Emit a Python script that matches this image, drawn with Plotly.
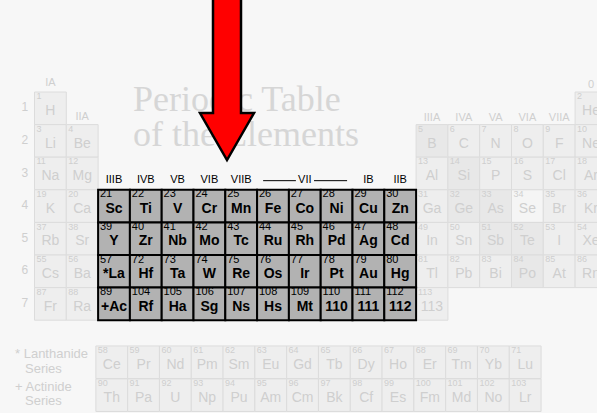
import plotly.graph_objects as go

# ---------------- data ----------------
SYMBOLS = [
    "H", "He",
    "Li", "Be", "B", "C", "N", "O", "F", "Ne",
    "Na", "Mg", "Al", "Si", "P", "S", "Cl", "Ar",
    "K", "Ca", "Sc", "Ti", "V", "Cr", "Mn", "Fe", "Co", "Ni", "Cu", "Zn", "Ga", "Ge", "As", "Se", "Br", "Kr",
    "Rb", "Sr", "Y", "Zr", "Nb", "Mo", "Tc", "Ru", "Rh", "Pd", "Ag", "Cd", "In", "Sn", "Sb", "Te", "I", "Xe",
    "Cs", "Ba", "*La", "Hf", "Ta", "W", "Re", "Os", "Ir", "Pt", "Au", "Hg", "Tl", "Pb", "Bi", "Po", "At", "Rn",
    "Fr", "Ra", "+Ac", "Rf", "Ha", "Sg", "Ns", "Hs", "Mt", "110", "111", "112", "113",
]
NUMBERS = [
    1, 2,
    3, 4, 5, 6, 7, 8, 9, 10,
    11, 12, 13, 14, 15, 16, 17, 18,
    19, 20, 21, 22, 23, 24, 25, 26, 27, 28, 29, 30, 31, 32, 33, 34, 35, 36,
    37, 38, 39, 40, 41, 42, 43, 44, 45, 46, 47, 48, 49, 50, 51, 52, 53, 54,
    55, 56, 57, 72, 73, 74, 75, 76, 77, 78, 79, 80, 81, 82, 83, 84, 85, 86,
    87, 88, 89, 104, 105, 106, 107, 108, 109, 110, 111, 112, 113,
]
GROUPS = [
    1, 18,
    1, 2, 13, 14, 15, 16, 17, 18,
    1, 2, 13, 14, 15, 16, 17, 18,
    1, 2, 3, 4, 5, 6, 7, 8, 9, 10, 11, 12, 13, 14, 15, 16, 17, 18,
    1, 2, 3, 4, 5, 6, 7, 8, 9, 10, 11, 12, 13, 14, 15, 16, 17, 18,
    1, 2, 3, 4, 5, 6, 7, 8, 9, 10, 11, 12, 13, 14, 15, 16, 17, 18,
    1, 2, 3, 4, 5, 6, 7, 8, 9, 10, 11, 12, 13,
]
PERIODS = (
    [1] * 2 + [2] * 8 + [3] * 8 + [4] * 18 + [5] * 18 + [6] * 18 + [7] * 13
)

HIGHLIGHT_GROUPS = [3, 4, 5, 6, 7, 8, 9, 10, 11, 12]
HIGHLIGHT_PERIODS = [4, 5, 6, 7]
SHADED = ["B", "Si", "Ge", "As", "Sb", "Te", "Po"]
PALE = ["Se"]

LAN_SYMBOLS = ["Ce", "Pr", "Nd", "Pm", "Sm", "Eu", "Gd", "Tb", "Dy", "Ho", "Er", "Tm", "Yb", "Lu"]
LAN_NUMBERS = [58, 59, 60, 61, 62, 63, 64, 65, 66, 67, 68, 69, 70, 71]
ACT_SYMBOLS = ["Th", "Pa", "U", "Np", "Pu", "Am", "Cm", "Bk", "Cf", "Es", "Fm", "Md", "No", "Lr"]
ACT_NUMBERS = [90, 91, 92, 93, 94, 95, 96, 97, 98, 99, 100, 101, 102, 103]

ROW_LABELS = ["1", "2", "3", "4", "5", "6", "7"]
B_LABELS = ["IIIB", "IVB", "VB", "VIB", "VIIB", "VII", "IB", "IIB"]
B_LABEL_GROUPS = [3, 4, 5, 6, 7, 9, 11, 12]
A_LABELS = ["IA", "IIA", "IIIA", "IVA", "VA", "VIA", "VIIA", "0"]
A_LABEL_GROUPS = [1, 2, 13, 14, 15, 16, 17, 18]
A_LABEL_ROWS = [-0.28, 0.77, 0.79, 0.79, 0.79, 0.79, 0.79, -0.22]

TITLE_LINES = ["Periodic Table", "of the Elements"]
SERIES_LABELS = ["* Lanthanide", "Series", "+ Actinide", "Series"]

# ---------------- layout geometry ----------------
W, H = 597, 413
X0_PX, CW = 34.5, 31.8
Y0_PX, RH = 92.0, 32.6
XR = [-X0_PX / CW, (W - X0_PX) / CW]
YR = [(H - Y0_PX) / RH, -Y0_PX / RH]

LAN_COL0 = 1.93
LAN_ROW = 7.79
ACT_ROW = 8.80

BG = "#f7f7f7"
FADE_FILL = "#eeeeee"
FADE_SHADED = "#e8e8e8"
FADE_PALE = "#f5f5f5"
FADE_LINE = "#dcdcdc"
FADE_TEXT = "#cfcfcf"
HI_FILL = "#b2b2b2"

shapes = []
fade_num = dict(x=[], y=[], t=[])
fade_sym = dict(x=[], y=[], t=[])
hi_num = dict(x=[], y=[], t=[])
hi_sym = dict(x=[], y=[], t=[])


def add_cell(x0, y0, sym, num, highlight, fill):
    if highlight:
        shapes.append(dict(type="rect", xref="x", yref="y", x0=x0, x1=x0 + 1, y0=y0, y1=y0 + 1,
                           fillcolor=HI_FILL, line=dict(color="black", width=2), layer="below"))
        tgt_n, tgt_s = hi_num, hi_sym
    else:
        shapes.append(dict(type="rect", xref="x", yref="y", x0=x0, x1=x0 + 1, y0=y0, y1=y0 + 1,
                           fillcolor=fill, line=dict(color=FADE_LINE, width=1), layer="below"))
        tgt_n, tgt_s = fade_num, fade_sym
    tgt_n["x"].append(x0 + 0.06)
    tgt_n["y"].append(y0 + 0.15)
    tgt_n["t"].append(str(num))
    tgt_s["x"].append(x0 + 0.5)
    tgt_s["y"].append(y0 + 0.6)
    tgt_s["t"].append(sym)


# faded cells first, highlighted after so their borders sit on top
order = sorted(range(len(SYMBOLS)),
               key=lambda i: (GROUPS[i] in HIGHLIGHT_GROUPS and PERIODS[i] in HIGHLIGHT_PERIODS))
for i in order:
    g, p, s = GROUPS[i], PERIODS[i], SYMBOLS[i]
    hl = g in HIGHLIGHT_GROUPS and p in HIGHLIGHT_PERIODS
    fill = FADE_SHADED if s in SHADED else (FADE_PALE if s in PALE else FADE_FILL)
    add_cell(g - 1, p - 1, s, NUMBERS[i], hl, fill)

for k, (s, n) in enumerate(zip(LAN_SYMBOLS, LAN_NUMBERS)):
    add_cell(LAN_COL0 + k, LAN_ROW, s, n, False, FADE_FILL)
for k, (s, n) in enumerate(zip(ACT_SYMBOLS, ACT_NUMBERS)):
    add_cell(LAN_COL0 + k, ACT_ROW, s, n, False, FADE_FILL)

fig = go.Figure()

# title (as a trace so the arrow can cover it)
fig.add_trace(go.Scatter(
    x=[(133 - X0_PX) / CW] * 2, y=[0.32, 1.39], text=TITLE_LINES, mode="text",
    textposition="middle right",
    textfont=dict(family="Liberation Serif, Times New Roman, serif", size=36, color="#d6d6d6"),
    hoverinfo="skip", showlegend=False))

SANS = "Liberation Sans, Arial, sans-serif"
for d, size, color, weight, pos in [
    (fade_num, 9, FADE_TEXT, "normal", "middle right"),
    (fade_sym, 14, FADE_TEXT, "normal", "middle center"),
    (hi_num, 11, "#000000", "normal", "middle right"),
    (hi_sym, 14, "#000000", "bold", "middle center"),
]:
    fig.add_trace(go.Scatter(
        x=d["x"], y=d["y"], text=d["t"], mode="text", textposition=pos,
        textfont=dict(family=SANS, size=size, color=color, weight=weight),
        hoverinfo="skip", showlegend=False))

# row numbers
fig.add_trace(go.Scatter(
    x=[-0.3] * len(ROW_LABELS), y=[k + 0.5 for k in range(len(ROW_LABELS))], text=ROW_LABELS,
    mode="text", textposition="middle center",
    textfont=dict(family=SANS, size=12, color=FADE_TEXT), hoverinfo="skip", showlegend=False))

# faded A-group labels
fig.add_trace(go.Scatter(
    x=[g - 0.5 for g in A_LABEL_GROUPS], y=A_LABEL_ROWS, text=A_LABELS,
    mode="text", textposition="middle center",
    textfont=dict(family=SANS, size=11, color=FADE_TEXT), hoverinfo="skip", showlegend=False))

# B-group labels
fig.add_trace(go.Scatter(
    x=[g - 0.5 for g in B_LABEL_GROUPS], y=[2.7] * len(B_LABELS), text=B_LABELS,
    mode="text", textposition="middle center",
    textfont=dict(family=SANS, size=11, color="black"), hoverinfo="skip", showlegend=False))

# lines around "VII"
vii = B_LABEL_GROUPS[B_LABELS.index("VII")] - 0.5
for a, b in [(vii - 1.31, vii - 0.28), (vii + 0.29, vii + 1.33)]:
    shapes.append(dict(type="line", xref="x", yref="y", x0=a, x1=b, y0=2.72, y1=2.72,
                       line=dict(color="black", width=1), layer="above"))

# series labels
fig.add_trace(go.Scatter(
    x=[(15 - X0_PX) / CW, (25 - X0_PX) / CW, (15 - X0_PX) / CW, (25 - X0_PX) / CW],
    y=[LAN_ROW + 0.27, LAN_ROW + 0.74, ACT_ROW + 0.27, ACT_ROW + 0.7],
    text=SERIES_LABELS, mode="text", textposition="middle right",
    textfont=dict(family=SANS, size=13, color=FADE_TEXT), hoverinfo="skip", showlegend=False))

# red arrow (decoration) pointing down at the highlighted block
ax_l, ax_r = (213 - X0_PX) / CW, (241 - X0_PX) / CW
ah_l, ah_r = (200 - X0_PX) / CW, (254 - X0_PX) / CW
a_tip = (227 - X0_PX) / CW
ay_top, ay_neck, ay_tip = (-6 - Y0_PX) / RH, (113 - Y0_PX) / RH, (160 - Y0_PX) / RH
arrow_path = (f"M {ax_l},{ay_top} L {ax_r},{ay_top} L {ax_r},{ay_neck} L {ah_r},{ay_neck} "
              f"L {a_tip},{ay_tip} L {ah_l},{ay_neck} L {ax_l},{ay_neck} Z")
shapes.append(dict(type="path", xref="x", yref="y", path=arrow_path, fillcolor="#ff0000",
                   line=dict(color="black", width=2.5), layer="above"))

fig.update_layout(
    width=W, height=H, margin=dict(l=0, r=0, t=0, b=0),
    paper_bgcolor=BG, plot_bgcolor=BG,
    xaxis=dict(range=XR, visible=False, fixedrange=True),
    yaxis=dict(range=YR, visible=False, fixedrange=True),
    shapes=shapes, showlegend=False,
)

fig.write_html("out.html", config={"displayModeBar": False, "staticPlot": True},
               post_script="document.body.style.margin='0';document.body.style.overflow='hidden';")
